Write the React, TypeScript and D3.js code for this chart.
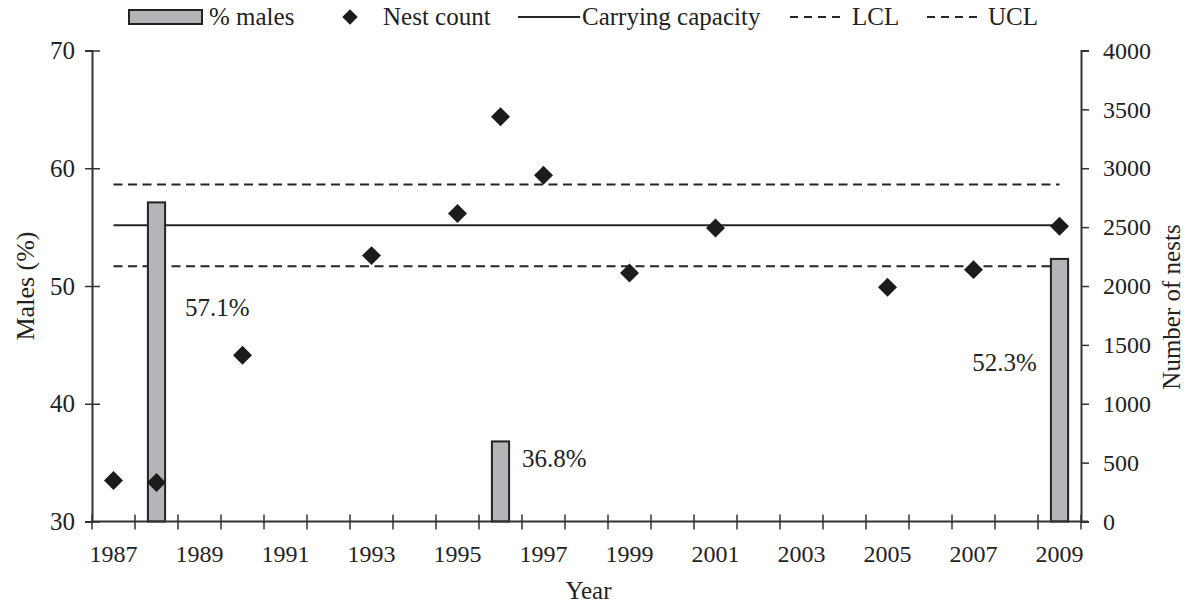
import React, { useEffect, useRef } from 'react';
import * as d3 from 'd3';

// categories on the x axis
const years = d3.range(1987, 2010).map(String);
const yearLabels = years.filter(y => +y % 2 === 1);

// % males (left axis)
const maleYears = ['1988', '1996', '2009'];
const maleValues = [57.1, 36.8, 52.3];

// nest counts (right axis)
const nestYears = ['1987', '1988', '1990', '1993', '1995', '1996', '1997', '1999', '2001', '2005', '2007', '2009'];
const nestValues = [348, 331, 1411, 2258, 2615, 3437, 2940, 2111, 2493, 1989, 2139, 2507];

// reference lines (number of nests)
const carryingCapacity = 2515;
const lcl = 2167;
const ucl = 2862;

const leftTicks = [30, 40, 50, 60, 70];
const rightTicks = [0, 500, 1000, 1500, 2000, 2500, 3000, 3500, 4000];

const W = 1191;
const H = 603;
const FONT = "'Liberation Serif', 'Times New Roman', serif";

const App = () => {
  const ref = useRef<SVGSVGElement>(null);

  useEffect(() => {
    const svg = d3.select(ref.current);
    svg.selectAll('*').remove();
    svg.style('font-family', FONT);

    const left = 92, right = 1081, top = 50.5, bottom = 521.5;

    const x = d3.scaleBand().domain(years).range([left, right]).padding(0);
    const yL = d3.scaleLinear().domain([30, 70]).range([bottom, top]);
    const yR = d3.scaleLinear().domain([0, 4000]).range([bottom, top]);
    const bw = x.bandwidth();
    const cx = (y: string) => (x(y) as number) + bw / 2;

    const axisColor = '#333';
    const ink = '#222';

    // reference lines
    const refLines = [
      { v: ucl, dash: '9,5.5' },
      { v: carryingCapacity, dash: null },
      { v: lcl, dash: '9,5.5' }
    ];
    refLines.forEach(r => {
      const line = svg
        .append('line')
        .attr('x1', cx(years[0]))
        .attr('x2', cx(years[years.length - 1]))
        .attr('y1', yR(r.v))
        .attr('y2', yR(r.v))
        .attr('stroke', '#262626')
        .attr('stroke-width', 2);
      if (r.dash) line.attr('stroke-dasharray', r.dash);
    });

    // bars
    const barW = bw * 0.4;
    svg
      .selectAll('.bar')
      .data(maleYears)
      .enter()
      .append('rect')
      .attr('class', 'bar')
      .attr('x', d => cx(d) - barW / 2)
      .attr('y', (d, i) => yL(maleValues[i]))
      .attr('width', barW)
      .attr('height', (d, i) => bottom - yL(maleValues[i]))
      .attr('fill', '#b5b5b9')
      .attr('stroke', ink)
      .attr('stroke-width', 2);

    // bar labels (hand placed like the original)
    const labelPos = [
      { dx: 20, dy: 114, anchor: 'start' },
      { dx: 13, dy: 26, anchor: 'start' },
      { dx: -14, dy: 112, anchor: 'end' }
    ];
    svg
      .selectAll('.barlabel')
      .data(maleYears)
      .enter()
      .append('text')
      .attr('class', 'barlabel')
      .attr('x', (d, i) =>
        labelPos[i].anchor === 'start' ? cx(d) + barW / 2 + labelPos[i].dx : cx(d) - barW / 2 + labelPos[i].dx
      )
      .attr('y', (d, i) => yL(maleValues[i]) + labelPos[i].dy)
      .attr('text-anchor', (d, i) => labelPos[i].anchor)
      .style('font-family', FONT)
      .style('font-size', '25px')
      .attr('fill', ink)
      .text((d, i) => `${maleValues[i].toFixed(1)}%`);

    // diamonds
    const diamond = d3.symbol().type(d3.symbolSquare).size(180);
    svg
      .selectAll('.nest')
      .data(nestYears)
      .enter()
      .append('path')
      .attr('class', 'nest')
      .attr('d', diamond)
      .attr('transform', (d, i) => `translate(${cx(d)},${yR(nestValues[i])}) rotate(45)`)
      .attr('fill', '#1c1c1c');

    // x axis
    const gx = svg.append('g');
    gx.append('line')
      .attr('x1', left)
      .attr('x2', right + 7)
      .attr('y1', bottom)
      .attr('y2', bottom)
      .attr('stroke', axisColor)
      .attr('stroke-width', 2);
    gx.selectAll('.xt')
      .data(d3.range(years.length + 1))
      .enter()
      .append('line')
      .attr('x1', i => left + i * bw)
      .attr('x2', i => left + i * bw)
      .attr('y1', bottom - 7)
      .attr('y2', bottom + 8)
      .attr('stroke', axisColor)
      .attr('stroke-width', 1.5);
    gx.selectAll('.xl')
      .data(yearLabels)
      .enter()
      .append('text')
      .attr('x', d => cx(d))
      .attr('y', 562)
      .attr('text-anchor', 'middle')
      .style('font-family', FONT)
      .style('font-size', '24px')
      .attr('fill', ink)
      .text(d => d);

    // left axis
    const gl = svg
      .append('g')
      .attr('transform', `translate(${left},0)`)
      .call(d3.axisLeft(yL).tickValues(leftTicks).tickSize(7).tickPadding(10).tickFormat(d3.format('d')));
    gl.attr('font-family', null).attr('font-size', null);
    gl.select('.domain').attr('stroke', axisColor).attr('stroke-width', 2);
    gl.selectAll('.tick line').attr('x1', 8).attr('stroke', axisColor).attr('stroke-width', 1.5);
    gl.selectAll('.tick text').style('font-family', FONT).style('font-size', '25px').attr('fill', ink);

    // right axis
    const gr = svg
      .append('g')
      .attr('transform', `translate(${right},0)`)
      .call(d3.axisRight(yR).tickValues(rightTicks).tickSize(8).tickPadding(14).tickFormat(d3.format('d')));
    gr.attr('font-family', null).attr('font-size', null);
    gr.select('.domain').attr('stroke', axisColor).attr('stroke-width', 2);
    gr.selectAll('.tick line').attr('stroke', axisColor).attr('stroke-width', 1.5);
    gr.selectAll('.tick text').style('font-family', FONT).style('font-size', '24px').attr('fill', ink);

    // axis titles
    svg
      .append('text')
      .attr('x', (left + right) / 2 + 2)
      .attr('y', 599)
      .attr('text-anchor', 'middle')
      .style('font-family', FONT)
      .style('font-size', '25px')
      .attr('fill', ink)
      .text('Year');
    svg
      .append('text')
      .attr('transform', `translate(34,${(top + bottom) / 2}) rotate(-90)`)
      .attr('text-anchor', 'middle')
      .style('font-family', FONT)
      .style('font-size', '26px')
      .attr('fill', ink)
      .text('Males (%)');
    svg
      .append('text')
      .attr('transform', `translate(1180,${(top + bottom) / 2 + 21}) rotate(-90)`)
      .attr('text-anchor', 'middle')
      .style('font-family', FONT)
      .style('font-size', '25px')
      .attr('fill', ink)
      .text('Number of nests');

    // legend
    const lg = svg.append('g');
    const ly = 17;
    const legendText = (xPos: number, label: string) =>
      lg
        .append('text')
        .attr('x', xPos)
        .attr('y', 25)
        .style('font-family', FONT)
        .style('font-size', '25px')
        .attr('fill', ink)
        .text(label);
    lg.append('rect')
      .attr('x', 129)
      .attr('y', 10)
      .attr('width', 73)
      .attr('height', 14)
      .attr('fill', '#b5b5b9')
      .attr('stroke', ink)
      .attr('stroke-width', 2);
    legendText(209, '% males');
    lg.append('path')
      .attr('d', d3.symbol().type(d3.symbolSquare).size(120)())
      .attr('transform', `translate(350,${ly}) rotate(45)`)
      .attr('fill', '#1c1c1c');
    legendText(383, 'Nest count');
    lg.append('line')
      .attr('x1', 518)
      .attr('x2', 580)
      .attr('y1', ly)
      .attr('y2', ly)
      .attr('stroke', '#262626')
      .attr('stroke-width', 2);
    legendText(582, 'Carrying capacity');
    lg.append('line')
      .attr('x1', 790)
      .attr('x2', 843)
      .attr('y1', ly)
      .attr('y2', ly)
      .attr('stroke', '#262626')
      .attr('stroke-width', 2)
      .attr('stroke-dasharray', '8,6');
    legendText(852, 'LCL');
    lg.append('line')
      .attr('x1', 927)
      .attr('x2', 980)
      .attr('y1', ly)
      .attr('y2', ly)
      .attr('stroke', '#262626')
      .attr('stroke-width', 2)
      .attr('stroke-dasharray', '8,6');
    legendText(988, 'UCL');
  }, []);

  return (
    <svg
      ref={ref}
      width={W}
      height={H}
      style={{ position: 'absolute', left: 0, top: 0, background: '#fff' }}
    ></svg>
  );
};

export default App;
